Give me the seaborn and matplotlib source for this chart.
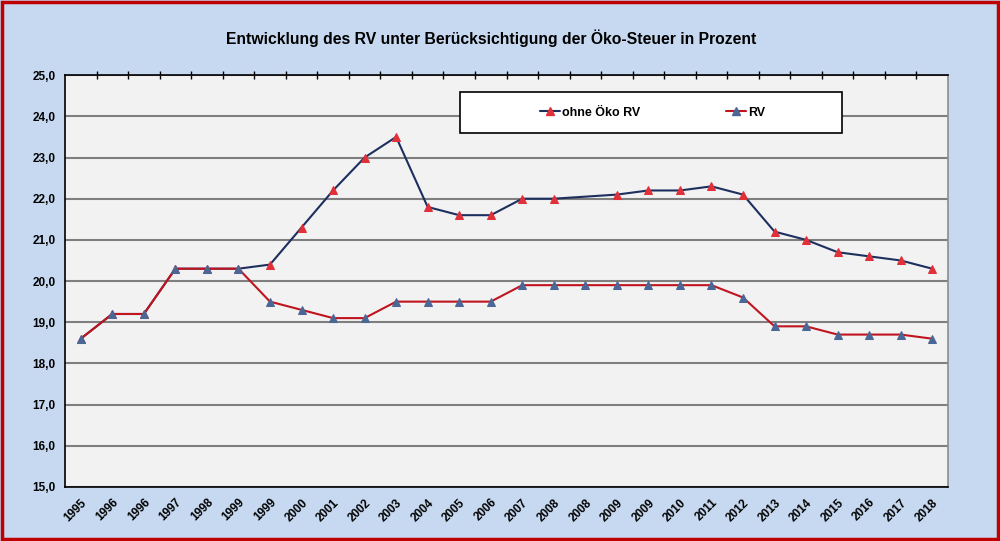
import numpy as np
import pandas as pd
import matplotlib
matplotlib.use("Agg")
import matplotlib.pyplot as plt
from matplotlib.lines import Line2D
from matplotlib.patches import Rectangle
from matplotlib.ticker import FuncFormatter
import seaborn as sns

# @@ data
years = ["1995", "1996", "1996", "1997", "1998", "1999", "1999", "2000", "2001", "2002",
         "2003", "2004", "2005", "2006", "2007", "2008", "2008", "2009", "2009", "2010",
         "2011", "2012", "2013", "2014", "2015", "2016", "2017", "2018"]
ohne_oeko_rv = [18.6, 19.2, 19.2, 20.3, 20.3, 20.3, 20.4, 21.3, 22.2, 23.0,
                23.5, 21.8, 21.6, 21.6, 22.0, 22.0, np.nan, 22.1, 22.2, 22.2,
                22.3, 22.1, 21.2, 21.0, 20.7, 20.6, 20.5, 20.3]
rv = [18.6, 19.2, 19.2, 20.3, 20.3, 20.3, 19.5, 19.3, 19.1, 19.1,
      19.5, 19.5, 19.5, 19.5, 19.9, 19.9, 19.9, 19.9, 19.9, 19.9,
      19.9, 19.6, 18.9, 18.9, 18.7, 18.7, 18.7, 18.6]
series_names = ["ohne Öko RV", "RV"]
# @@

sns.set_style("white")
plt.rcParams["font.family"] = ["Liberation Sans", "DejaVu Sans"]
plt.rcParams["font.weight"] = "bold"
plt.rcParams["text.color"] = "black"
plt.rcParams["xtick.color"] = "black"
plt.rcParams["ytick.color"] = "black"

NAVY = "#1c2f5e"
RED = "#c0141e"
RED_MK = "#e0303a"
BLUE_MK = "#4a6796"

df = pd.DataFrame({"pos": np.arange(len(years)), "ohne": ohne_oeko_rv, "rv": rv})

fig = plt.figure(figsize=(10, 5.41), dpi=100)
fig.patch.set_facecolor("#c6d9f0")
ax = fig.add_axes([0.065, 0.100, 0.883, 0.761])
ax.set_facecolor("#f2f2f2")

# ohne Öko RV: the missing point is bridged by the line (no marker)
d1 = df[["pos", "ohne"]].dropna()
sns.lineplot(data=d1, x="pos", y="ohne", ax=ax, color=NAVY, linewidth=1.5,
             marker="^", markersize=5.5, markerfacecolor=RED_MK,
             markeredgecolor=RED_MK, zorder=3)
sns.lineplot(data=df, x="pos", y="rv", ax=ax, color=RED, linewidth=1.5,
             marker="^", markersize=5.5, markerfacecolor=BLUE_MK,
             markeredgecolor=BLUE_MK, zorder=4)

ax.set_xlim(-0.5, len(years) - 0.5)
ax.set_ylim(15, 25)
ax.set_yticks(np.arange(15, 26, 1))
ax.yaxis.set_major_formatter(FuncFormatter(lambda v, p: f"{v:.1f}".replace(".", ",")))
ax.set_xticks(df["pos"])
ax.set_xticklabels(years, rotation=45, ha="right", rotation_mode="anchor",
                   fontsize=8.5, fontweight="bold", color="black")
for t in ax.get_yticklabels():
    t.set_fontsize(8.5)
    t.set_fontweight("bold")
    t.set_color("black")
ax.tick_params(axis="x", length=0, pad=7)
ax.tick_params(axis="y", length=4, width=1, direction="out", color="black", pad=3)
ax.set_xlabel("")
ax.set_ylabel("")

ax.grid(axis="y", color="#7f7f7f", linewidth=1.5)
ax.set_axisbelow(True)
for s in ["left", "bottom", "top"]:
    ax.spines[s].set_color("black")
    ax.spines[s].set_linewidth(1.2)
ax.spines["right"].set_color("#8c8c8c")
ax.spines["right"].set_linewidth(1.2)

# tick marks between categories along the top line
top = ax.secondary_xaxis("top")
top.set_xticks(np.arange(0.5, len(years) - 1, 1.0))
top.set_xticklabels([])
top.tick_params(length=6, width=1, direction="inout", color="black")
top.spines["top"].set_visible(False)

# legend box
ax.add_patch(Rectangle((0.447, 0.859), 0.433, 0.1, transform=ax.transAxes,
                       facecolor="white", edgecolor="black", linewidth=1.2, zorder=5))
handles = [
    Line2D([], [], color=NAVY, linewidth=1.5, marker="^", markersize=5.5,
           markerfacecolor=RED_MK, markeredgecolor=RED_MK),
    Line2D([], [], color=RED, linewidth=1.5, marker="^", markersize=5.5,
           markerfacecolor=BLUE_MK, markeredgecolor=BLUE_MK),
]
leg = ax.legend(handles, series_names, ncol=2, frameon=False, loc="center",
                bbox_to_anchor=(0.447 + 0.433 / 2 + 0.002, 0.909),
                prop={"weight": "bold", "size": 9}, handlelength=1.6,
                handletextpad=0.2, columnspacing=6.8)
leg.set_zorder(6)
for t in leg.get_texts():
    t.set_color("black")

fig.text(0.491, 0.930, "Entwicklung des RV unter Berücksichtigung der Öko-Steuer in Prozent",
         ha="center", va="center", fontsize=11.3, fontweight="bold", color="black")

fig.add_artist(Rectangle((0.002, 0.003), 0.996, 0.994, transform=fig.transFigure,
                         facecolor="none", edgecolor="#c00000", linewidth=2.5))

fig.savefig("out.png", dpi=100, facecolor=fig.get_facecolor())
